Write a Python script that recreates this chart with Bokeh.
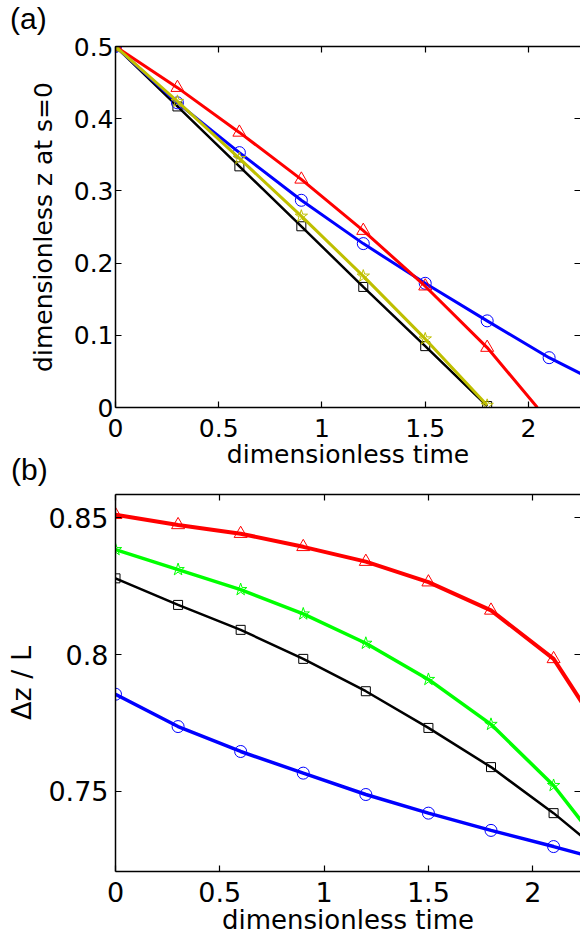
from bokeh.plotting import figure
from bokeh.models import Range1d, LinearAxis, FixedTicker, CustomLabelingPolicy, Div
from bokeh.layouts import column
from bokeh.embed import file_html
from bokeh.resources import INLINE

FONT = "DejaVu Sans"
LETTER_FONT = "Liberation Sans"

# ---------------- panel (a): dimensionless z at s=0 ----------------
a_t = [0, 0.3, 0.6, 0.9, 1.2, 1.5, 1.8]
a_black = [0.5, 0.417, 0.334, 0.251, 0.167, 0.085, 0.002]
a_yellow = [0.5, 0.424, 0.345, 0.265, 0.182, 0.095, 0.003]
a_red = [0.5, 0.443, 0.381, 0.316, 0.245, 0.168, 0.083]
a_red_line_t = a_t + [2.043]
a_red_line_z = a_red + [0.0]
a_blue_t = [0, 0.3, 0.6, 0.9, 1.2, 1.5, 1.8, 2.1]
a_blue = [0.5, 0.422, 0.353, 0.287, 0.227, 0.172, 0.120, 0.069]
a_blue_line_t = a_blue_t + [2.26]
a_blue_line_z = a_blue + [0.046]

a_xticks = [0, 0.5, 1, 1.5, 2]
a_xtick_labels = ["0", "0.5", "1", "1.5", "2"]
a_yticks = [0, 0.1, 0.2, 0.3, 0.4, 0.5]
a_ytick_labels = ["0", "0.1", "0.2", "0.3", "0.4", "0.5"]

# ---------------- panel (b): Δz / L ----------------
b_t = [0, 0.3, 0.6, 0.9, 1.2, 1.5, 1.8, 2.1]
b_red = [0.851, 0.8473, 0.8441, 0.8393, 0.8339, 0.8264, 0.8161, 0.7984]
b_green = [0.8383, 0.8310, 0.8237, 0.8148, 0.8041, 0.7909, 0.7745, 0.7522]
b_black = [0.8278, 0.8181, 0.8090, 0.7984, 0.7866, 0.7732, 0.7589, 0.7421]
b_blue = [0.7855, 0.7737, 0.7646, 0.7567, 0.7489, 0.7421, 0.7358, 0.7299]
b_edge_t = 2.24
b_red_edge, b_green_edge, b_black_edge, b_blue_edge = 0.7820, 0.7385, 0.7333, 0.7270

b_xticks = [0, 0.5, 1, 1.5, 2]
b_xtick_labels = ["0", "0.5", "1", "1.5", "2"]
b_yticks = [0.75, 0.8, 0.85]
b_ytick_labels = ["0.75", "0.8", "0.85"]

HIDE_CODE = """
for (const i of indices) { indices.unset(i) }
return indices
"""


def style_axes(p, xt, xl, yt, yl, xtick_fs, ytick_fs, xlabel_fs, ylabel_fs, xlab, ylab,
               x_tick_standoff, y_tick_standoff, x_label_standoff, y_label_standoff):
    p.outline_line_color = None
    p.xgrid.visible = False
    p.ygrid.visible = False
    p.background_fill_color = "white"
    p.border_fill_color = "white"
    xa, ya = p.xaxis[0], p.yaxis[0]
    for ax, t, l, tfs, lfs in ((xa, xt, xl, xtick_fs, xlabel_fs), (ya, yt, yl, ytick_fs, ylabel_fs)):
        ax.ticker = FixedTicker(ticks=t)
        ax.major_label_overrides = dict(zip(t, l))
        ax.major_tick_in = 6
        ax.major_tick_out = 0
        ax.minor_tick_line_color = None
        ax.axis_line_width = 1.5
        ax.axis_line_color = "black"
        ax.major_tick_line_color = "black"
        ax.major_tick_line_width = 1.2
        ax.major_label_text_font = FONT
        ax.major_label_text_font_size = tfs
        ax.major_label_text_color = "black"
        ax.axis_label_text_font = FONT
        ax.axis_label_text_font_size = lfs
        ax.axis_label_text_font_style = "normal"
        ax.axis_label_text_color = "black"
    xa.axis_label = xlab
    ya.axis_label = ylab
    xa.major_label_standoff = x_tick_standoff
    ya.major_label_standoff = y_tick_standoff
    xa.axis_label_standoff = x_label_standoff
    ya.axis_label_standoff = y_label_standoff

    # MATLAB-style box: inward ticks on the top and right edges, no labels there
    top = LinearAxis(ticker=FixedTicker(ticks=xt), major_label_text_font_size="0px",
                     major_label_policy=CustomLabelingPolicy(code=HIDE_CODE),
                     major_label_standoff=0, major_tick_in=6, major_tick_out=0,
                     minor_tick_line_color=None, axis_line_width=1.5,
                     axis_line_color="black", major_tick_line_width=1.2)
    p.add_layout(top, "above")
    right = LinearAxis(ticker=FixedTicker(ticks=yt), major_label_text_font_size="0px",
                       major_label_policy=CustomLabelingPolicy(code=HIDE_CODE),
                       major_label_standoff=0, major_tick_in=6, major_tick_out=0,
                       minor_tick_line_color=None, axis_line_color=None,
                       major_tick_line_width=1.2)
    p.add_layout(right, "right")


# ---------------- figure (a) ----------------
pa = figure(width=580, height=477, output_backend="svg", toolbar_location=None,
            x_range=Range1d(0, 2.252), y_range=Range1d(0, 0.5),
            min_border_left=110, min_border_right=0, min_border_top=46, min_border_bottom=70)
style_axes(pa, a_xticks, a_xtick_labels, a_yticks, a_ytick_labels, "25px", "25px", "25px", "25px",
           "dimensionless time", "dimensionless z at s=0", 11, 2, 0, 13)

pa.line(a_t, a_black, line_color="black", line_width=2.5)
pa.scatter(a_t, a_black, marker="square", size=9, fill_color=None, line_color="black", line_width=1)
pa.line(a_blue_line_t, a_blue_line_z, line_color="#0000ff", line_width=3)
pa.scatter(a_blue_t, a_blue, marker="circle", size=12, fill_color=None, line_color="#0000ff", line_width=1)
pa.line(a_red_line_t, a_red_line_z, line_color="#ff0000", line_width=3)
pa.scatter(a_t, a_red, marker="triangle", size=13, fill_color=None, line_color="#ff0000", line_width=1)
pa.line(a_t, a_yellow, line_color="#bfbf00", line_width=3)
pa.scatter(a_t, a_yellow, marker="star", size=13, fill_color=None, line_color="#bfbf00", line_width=1)

# ---------------- figure (b) ----------------
pb = figure(width=580, height=467, output_backend="svg", toolbar_location=None,
            x_range=Range1d(0, 2.229), y_range=Range1d(0.7208, 0.8584),
            min_border_left=115, min_border_right=0, min_border_top=17, min_border_bottom=73)
style_axes(pb, b_xticks, b_xtick_labels, b_yticks, b_ytick_labels, "27px", "27px", "26px", "27px",
           "dimensionless time", "Δz / L", 10, 7, 0, 8)

series_b = [
    (b_red, b_red_edge, "#ff0000", "triangle", 13, 4),
    (b_green, b_green_edge, "#00ff00", "star", 13, 3.5),
    (b_black, b_black_edge, "black", "square", 9, 2.5),
    (b_blue, b_blue_edge, "#0000ff", "circle", 12, 3.5),
]
for vals, edge, col, mk, sz, lw in series_b:
    pb.line(b_t + [b_edge_t], vals + [edge], line_color=col, line_width=lw)
    pb.scatter(b_t, vals, marker=mk, size=sz, fill_color=None, line_color=col, line_width=1)

# panel letters
label_style = {"position": "absolute", "font-family": LETTER_FONT, "font-size": "30px",
               "color": "black", "line-height": "normal", "margin": "0", "padding": "0"}
div_a = Div(text="(a)", styles=dict(label_style, left="10px", top="2px"))
div_b = Div(text="(b)", styles=dict(label_style, left="11px", top="453px"))

layout = column(pa, pb, spacing=0)
open("out.html", "w").write(file_html([layout, div_a, div_b], INLINE))
